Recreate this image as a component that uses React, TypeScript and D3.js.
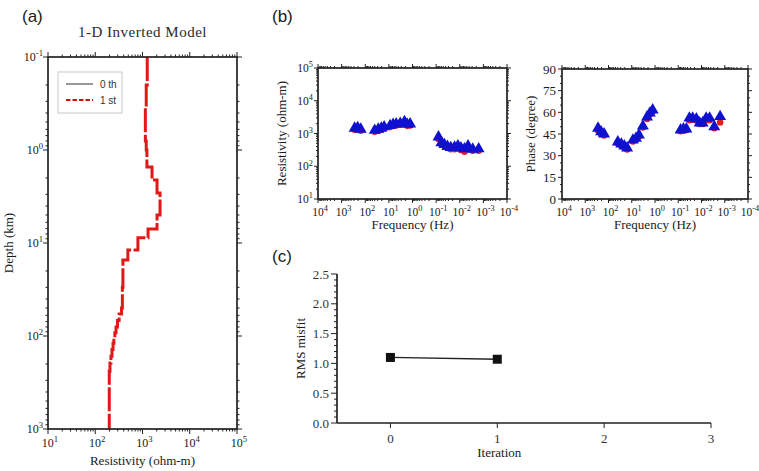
import React from "react";
import * as d3 from "d3";

// ---------- Data ----------
// Panel (a): 1-D layered model (top depth in km, resistivity in ohm-m)
const layerTops = [0.1, 0.2, 0.35, 0.8, 1.0, 1.52, 2.1, 2.9, 5.0, 7.06, 8.8, 11.9, 15.2, 30, 50, 58, 68, 80, 92, 105, 120, 140, 165, 195, 240];
const layerRho1 = [1260, 1200, 1150, 1200, 1240, 1590, 2030, 2350, 2030, 1310, 800, 490, 385, 375, 360, 320, 295, 275, 260, 248, 238, 226, 215, 205, 198];
const modelBottom = 1000;

// Panel (b): MT sounding data (log10 frequency)
const logFreq = [2.45, 2.32, 2.19, 1.6, 1.45, 1.32, 1.2, 0.95, 0.82, 0.69, 0.52, 0.34, 0.22, 0.1, -1.1, -1.22, -1.35, -1.48, -1.62, -1.78, -1.92, -2.05, -2.2, -2.35, -2.55, -2.8];
const rhoObs = [1450, 1500, 1350, 1250, 1350, 1450, 1600, 1750, 1900, 1950, 2050, 2300, 1900, 1950, 780, 520, 460, 400, 370, 380, 420, 360, 340, 420, 330, 340];
const rhoCalc = [1450, 1480, 1350, 1250, 1350, 1450, 1600, 1750, 1880, 1950, 2050, 2250, 1900, 1950, 760, 520, 460, 400, 370, 370, 400, 350, 310, 400, 330, 330];
const phaseObs = [49, 46.5, 45, 39.5, 38, 36.7, 35.3, 40.8, 42, 44.3, 50.5, 56.8, 59.5, 61.6, 47.8, 48.5, 48.5, 56, 56, 55.4, 52.6, 52.6, 56, 56, 50, 57];
const phaseCalc = [48.5, 46, 45, 39.5, 38, 36.7, 35.3, 40.8, 42, 44.3, 50.5, 56.5, 59.5, 61.6, 48, 48.5, 48.8, 55.5, 56, 55.4, 53, 53, 55.5, 55.5, 50, 54];

// Panel (c): RMS misfit
const iterations = [0, 1];
const rmsValues = [1.1, 1.07];
const iterTicks = [0, 1, 2, 3];
const rmsTicks = [0, 0.5, 1.0, 1.5, 2.0, 2.5];
const phaseTicks = [0, 15, 30, 45, 60, 75, 90];

const SERIF = "'Liberation Serif', 'DejaVu Serif', serif";
const SANS = "'Liberation Sans', Arial, sans-serif";
const INK = "#1a1a1a";

type Box = { l: number; r: number; t: number; b: number };

function decadeMinor(lo: number, hi: number) {
  const out: number[] = [];
  for (let e = lo; e < hi; e++) for (let m = 2; m <= 9; m++) out.push(m * Math.pow(10, e));
  return out;
}
function decades(lo: number, hi: number) {
  const out: number[] = [];
  for (let e = lo; e <= hi; e++) out.push(e);
  return out;
}

function Pow({ x, y, e, anchor, size = 12 }: { x: number; y: number; e: number; anchor: string; size?: number }) {
  return (
    <text x={x} y={y} textAnchor={anchor as any} fontFamily={SERIF} fontSize={size} fill={INK}>
      10<tspan dy={-size * 0.4} fontSize={size * 0.72}>{String(e)}</tspan>
    </text>
  );
}

// ticks on four sides, outward
function FrameTicks({ box, xs, ys, xMajor, xMinor, yMajor, yMinor, ML = 5, mL = 2.5 }: any) {
  const lines: any[] = [];
  xMajor.forEach((v: number, i: number) => {
    const x = xs(v);
    lines.push(<line key={"xb" + i} x1={x} x2={x} y1={box.b} y2={box.b + ML} />);
    lines.push(<line key={"xt" + i} x1={x} x2={x} y1={box.t} y2={box.t - ML} />);
  });
  xMinor.forEach((v: number, i: number) => {
    const x = xs(v);
    lines.push(<line key={"xbm" + i} x1={x} x2={x} y1={box.b} y2={box.b + mL} />);
    lines.push(<line key={"xtm" + i} x1={x} x2={x} y1={box.t} y2={box.t - mL} />);
  });
  yMajor.forEach((v: number, i: number) => {
    const y = ys(v);
    lines.push(<line key={"yl" + i} x1={box.l} x2={box.l - ML} y1={y} y2={y} />);
    lines.push(<line key={"yr" + i} x1={box.r} x2={box.r + ML} y1={y} y2={y} />);
  });
  yMinor.forEach((v: number, i: number) => {
    const y = ys(v);
    lines.push(<line key={"ylm" + i} x1={box.l} x2={box.l - mL} y1={y} y2={y} />);
    lines.push(<line key={"yrm" + i} x1={box.r} x2={box.r + mL} y1={y} y2={y} />);
  });
  return (
    <g stroke="#222" strokeWidth={1}>
      {lines}
      <rect x={box.l} y={box.t} width={box.r - box.l} height={box.b - box.t} fill="none" strokeWidth={1.7} />
    </g>
  );
}

function PanelA() {
  const box: Box = { l: 48, r: 237, t: 57, b: 429 };
  const xs = d3.scaleLog().domain([10, 1e5]).range([box.l, box.r]);
  const ys = d3.scaleLog().domain([0.1, 1000]).range([box.t, box.b]);
  const pts: [number, number][] = [];
  layerTops.forEach((top, i) => {
    const bot = i + 1 < layerTops.length ? layerTops[i + 1] : modelBottom;
    pts.push([layerRho1[i], top]);
    pts.push([layerRho1[i], bot]);
  });
  const line = d3.line<[number, number]>().x((d) => xs(d[0])).y((d) => ys(d[1]));
  return (
    <g>
      <text x={22} y={22} fontFamily={SANS} fontSize={17} fill={INK}>(a)</text>
      <text x={(box.l + box.r) / 2} y={37} textAnchor="middle" fontFamily={SERIF} fontSize={15} letterSpacing={0.5} fill="#2a2a2a">1-D Inverted Model</text>
      <path d={line(pts) || ""} fill="none" stroke="#e01818" strokeWidth={3} strokeDasharray="24,2.5" />
      <FrameTicks box={box} xs={xs} ys={ys} xMajor={decades(1, 5).map((e) => Math.pow(10, e))} xMinor={decadeMinor(1, 5)} yMajor={decades(-1, 3).map((e) => Math.pow(10, e))} yMinor={decadeMinor(-1, 3)} />
      {decades(-1, 3).map((e) => (
        <Pow key={"ya" + e} x={box.l - 5} y={ys(Math.pow(10, e)) + 4} e={e} anchor="end" />
      ))}
      {decades(1, 5).map((e) => (
        <Pow key={"xa" + e} x={xs(Math.pow(10, e)) + 2} y={box.b + 18} e={e} anchor="middle" />
      ))}
      <text x={(box.l + box.r) / 2} y={465} textAnchor="middle" fontFamily={SERIF} fontSize={13} fill={INK}>Resistivity (ohm-m)</text>
      <text transform={`translate(13,${(box.t + box.b) / 2}) rotate(-90)`} textAnchor="middle" fontFamily={SERIF} fontSize={13} fill={INK}>Depth (km)</text>
      {/* legend */}
      <rect x={58} y={72} width={64} height={41} fill="#fff" stroke="#bbb" strokeWidth={0.8} />
      <line x1={66} x2={93} y1={84} y2={84} stroke="#999" strokeWidth={2} />
      <text x={100} y={88} fontFamily={SANS} fontSize={10} fill="#333">0 th</text>
      <line x1={66} x2={93} y1={100} y2={100} stroke="#d01010" strokeWidth={2.2} strokeDasharray="4.5,2" />
      <text x={100} y={104} fontFamily={SANS} fontSize={10} fill="#333">1 st</text>
    </g>
  );
}

const tri = d3.symbol().type(d3.symbolTriangle).size(62)() || "";
const circ = d3.symbol().type(d3.symbolCircle).size(34)() || "";

function PanelB1() {
  const box: Box = { l: 318, r: 507, t: 68, b: 199 };
  const xs = d3.scaleLog().domain([1e4, 1e-4]).range([box.l, box.r]);
  const ys = d3.scaleLog().domain([10, 1e5]).range([box.b, box.t]);
  return (
    <g>
      <text x={272} y={22} fontFamily={SANS} fontSize={17} fill={INK}>(b)</text>
      {logFreq.map((f, i) => (
        <path key={"rc" + i} d={circ} transform={`translate(${xs(Math.pow(10, f))},${ys(rhoCalc[i]) + 1.5})`} fill="#e02020" />
      ))}
      {logFreq.map((f, i) => (
        <path key={"ro" + i} d={tri} transform={`translate(${xs(Math.pow(10, f))},${ys(rhoObs[i])})`} fill="#1010d0" />
      ))}
      <FrameTicks box={box} xs={xs} ys={ys} ML={4} mL={2} xMajor={decades(-4, 4).map((e) => Math.pow(10, e))} xMinor={decadeMinor(-4, 4)} yMajor={decades(1, 5).map((e) => Math.pow(10, e))} yMinor={decadeMinor(1, 5)} />
      {decades(1, 5).map((e) => (
        <Pow key={"yb" + e} x={box.l - 5} y={ys(Math.pow(10, e)) + 4} e={e} anchor="end" size={11.5} />
      ))}
      {decades(-4, 4).map((e) => (
        <Pow key={"xb" + e} x={xs(Math.pow(10, e)) + 2} y={box.b + 17} e={e} anchor="middle" size={11.5} />
      ))}
      <text x={(box.l + box.r) / 2} y={229} textAnchor="middle" fontFamily={SERIF} fontSize={13} fill={INK}>Frequency (Hz)</text>
      <text transform={`translate(286,${(box.t + box.b) / 2}) rotate(-90)`} textAnchor="middle" fontFamily={SERIF} fontSize={13} fill={INK}>Resistivity (ohm-m)</text>
    </g>
  );
}

function PanelB2() {
  const box: Box = { l: 562, r: 748, t: 69, b: 199 };
  const xs = d3.scaleLog().domain([1e4, 1e-4]).range([box.l, box.r]);
  const ys = d3.scaleLinear().domain([0, 90]).range([box.b, box.t]);
  const minorY = d3.range(0, 91, 5).filter((v) => v % 15 !== 0);
  return (
    <g>
      {logFreq.map((f, i) => (
        <path key={"pc" + i} d={circ} transform={`translate(${xs(Math.pow(10, f))},${ys(phaseCalc[i]) + 1.5})`} fill="#e02020" />
      ))}
      {logFreq.map((f, i) => (
        <path key={"po" + i} d={tri} transform={`translate(${xs(Math.pow(10, f))},${ys(phaseObs[i])})`} fill="#1010d0" />
      ))}
      <FrameTicks box={box} xs={xs} ys={ys} ML={4} mL={2} xMajor={decades(-4, 4).map((e) => Math.pow(10, e))} xMinor={decadeMinor(-4, 4)} yMajor={phaseTicks} yMinor={minorY} />
      {phaseTicks.map((v) => (
        <text key={"py" + v} x={box.l - 6} y={ys(v) + 4.5} textAnchor="end" fontFamily={SERIF} fontSize={13} fill={INK}>{v}</text>
      ))}
      {decades(-4, 4).map((e) => (
        <Pow key={"xp" + e} x={xs(Math.pow(10, e)) + 2} y={box.b + 17} e={e} anchor="middle" size={11.5} />
      ))}
      <text x={(box.l + box.r) / 2} y={229} textAnchor="middle" fontFamily={SERIF} fontSize={13} fill={INK}>Frequency (Hz)</text>
      <text transform={`translate(535,${(box.t + box.b) / 2}) rotate(-90)`} textAnchor="middle" fontFamily={SERIF} fontSize={13} fill={INK}>Phase (degree)</text>
    </g>
  );
}

function PanelC() {
  const xs = d3.scaleLinear().domain([-0.5, 3]).range([337, 711]);
  const ys = d3.scaleLinear().domain([0, 2.5]).range([423, 274]);
  const minor = d3.range(0, 25).map((i) => i / 10).filter((v) => Math.round(v * 10) % 5 !== 0);
  const line = d3.line<number>().x((d, i) => xs(iterations[i])).y((d) => ys(d));
  return (
    <g>
      <text x={272} y={262} fontFamily={SANS} fontSize={17} fill={INK}>(c)</text>
      <g stroke="#222">
        <line x1={337} x2={337} y1={ys(2.5)} y2={ys(0)} strokeWidth={1.7} />
        <line x1={337} x2={xs(3)} y1={ys(0)} y2={ys(0)} strokeWidth={1.7} />
        {rmsTicks.map((v) => (
          <line key={"ct" + v} x1={337} x2={331} y1={ys(v)} y2={ys(v)} strokeWidth={1} />
        ))}
        {minor.map((v) => (
          <line key={"cm" + v} x1={337} x2={334} y1={ys(v)} y2={ys(v)} strokeWidth={1} />
        ))}
        {iterTicks.map((v) => (
          <line key={"cx" + v} x1={xs(v)} x2={xs(v)} y1={ys(0)} y2={ys(0) + 5} strokeWidth={1} />
        ))}
      </g>
      {rmsTicks.map((v) => (
        <text key={"cl" + v} x={329} y={ys(v) + 4.5} textAnchor="end" fontFamily={SERIF} fontSize={13} fill="#333">{v.toFixed(1)}</text>
      ))}
      {iterTicks.map((v) => (
        <text key={"cxl" + v} x={xs(v)} y={443} textAnchor="middle" fontFamily={SERIF} fontSize={13} fill="#333">{v}</text>
      ))}
      <text x={xs(1) + 2} y={457} textAnchor="middle" fontFamily={SERIF} fontSize={13} fill={INK}>Iteration</text>
      <text transform={`translate(305,${ys(1.25)}) rotate(-90)`} textAnchor="middle" fontFamily={SERIF} fontSize={13} fill={INK}>RMS misfit</text>
      <path d={line(rmsValues) || ""} fill="none" stroke="#222" strokeWidth={1.3} />
      {rmsValues.map((v, i) => (
        <rect key={"sq" + i} x={xs(iterations[i]) - 4.5} y={ys(v) - 4.5} width={9} height={9} fill="#111" />
      ))}
    </g>
  );
}

export default function App() {
  return (
    <svg width={759} height={471} style={{ position: "absolute", left: 0, top: 0, background: "#fff" }}>
      <rect width={759} height={471} fill="#fff" />
      <PanelA />
      <PanelB1 />
      <PanelB2 />
      <PanelC />
    </svg>
  );
}
